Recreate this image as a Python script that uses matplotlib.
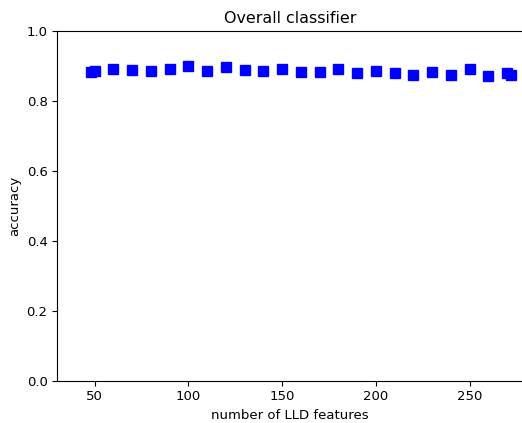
import matplotlib
matplotlib.use('Agg')
import matplotlib.pyplot as plt

# number of LLD features used and the resulting accuracy
n_features = [48, 50, 60, 70, 80, 90, 100, 110, 120, 130, 140, 150, 160,
              170, 180, 190, 200, 210, 220, 230, 240, 250, 260, 270, 272]
accuracy = [0.884, 0.885, 0.890, 0.889, 0.885, 0.890, 0.899, 0.885, 0.898,
            0.889, 0.886, 0.891, 0.883, 0.882, 0.891, 0.880, 0.885, 0.881,
            0.873, 0.882, 0.875, 0.890, 0.872, 0.881, 0.875]

plt.rcParams['font.size'] = 9.5
plt.rcParams['xtick.major.size'] = 3.3
plt.rcParams['ytick.major.size'] = 3.3

fig = plt.figure(figsize=(5.22, 4.23), dpi=100)
ax = fig.add_axes([57/522, 42/423, 466/522, 350/423])
ax.plot(n_features, accuracy, 'bs', markersize=7.5)
ax.set_xlim(30, 278.5)
ax.set_ylim(0.0, 1.0)
ax.set_xticks([50, 100, 150, 200, 250])
ax.set_title("Overall classifier")
ax.set_xlabel("number of LLD features")
ax.set_ylabel("accuracy")

fig.savefig("out.png", dpi=100)
